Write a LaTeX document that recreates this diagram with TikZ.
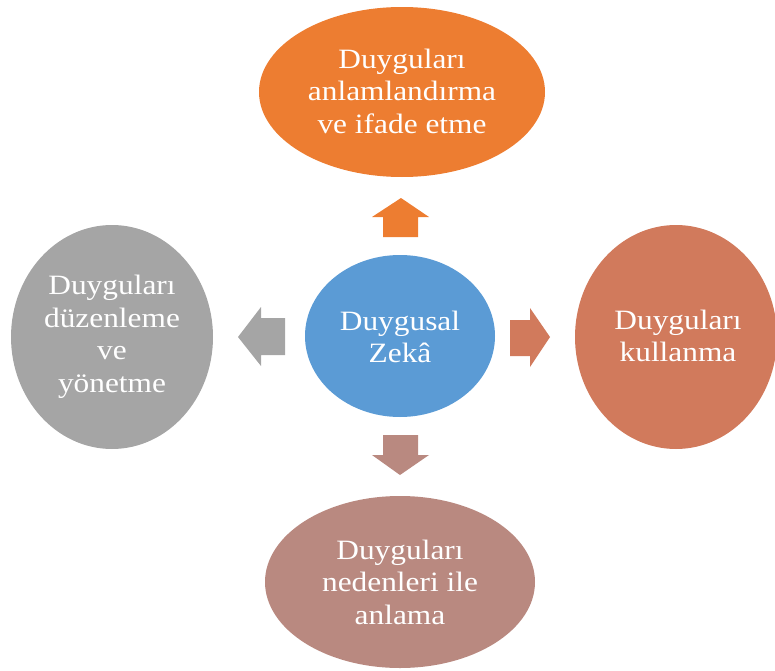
\documentclass[tikz,border=0pt]{standalone}
\usepackage{fontspec}
\setmainfont{Liberation Serif}[FakeStretch=1.12]
\usepackage{tikz}

\definecolor{zekablue}{RGB}{91,155,213}
\definecolor{anlamorange}{RGB}{237,125,49}
\definecolor{kullancoral}{RGB}{209,122,92}
\definecolor{nedenmauve}{RGB}{185,137,128}
\definecolor{duzengray}{RGB}{165,165,165}

\tikzset{
  txt/.style={text=white, align=center, inner sep=0.75pt,
    font=\fontsize{21}{24.4}\selectfont},
}

\begin{document}
\begin{tikzpicture}[x=0.75pt,y=0.75pt,yscale=-1,xscale=1]
\useasboundingbox (0,0) rectangle (775,671);

%Shape: Ellipse [top]
\fill [anlamorange] (402,92) ellipse [x radius=143, y radius=85];
%Shape: Ellipse [right]
\fill [kullancoral] (676,337) ellipse [x radius=101, y radius=112];
%Shape: Ellipse [bottom]
\fill [nedenmauve] (400,582) ellipse [x radius=135, y radius=86];
%Shape: Ellipse [left]
\fill [duzengray] (112,337) ellipse [x radius=101, y radius=112];
%Shape: Ellipse [center]
\fill [zekablue] (400,336) ellipse [x radius=95, y radius=81];

%Shape: Up Arrow
\fill [anlamorange] (383,237) -- (383,217) -- (372,217) -- (401,198) -- (429,217) -- (418,217) -- (418,237) -- cycle ;
%Shape: Right Arrow
\fill [kullancoral] (510,320) -- (530,320) -- (530,308) -- (550,337) -- (530,367) -- (530,356) -- (510,356) -- cycle ;
%Shape: Down Arrow
\fill [nedenmauve] (383,435) -- (418,435) -- (418,455) -- (429,455) -- (400,475) -- (372,455) -- (383,455) -- cycle ;
%Shape: Left Arrow
\fill [duzengray] (285,318) -- (261,318) -- (261,307) -- (238,337) -- (261,366) -- (261,355) -- (285,355) -- cycle ;

% Text Node
\node [txt] (zeka) at (400,337) {Duygusal\\Zekâ};
% Text Node
\node [txt] (anlam) at (402,91) {Duyguları\\anlamlandırma\\ve ifade etme};
% Text Node
\node [txt] (kullan) at (678,336) {Duyguları\\kullanma};
% Text Node
\node [txt] (neden) at (400,582) {Duyguları\\nedenleri ile\\anlama};
% Text Node
\node [txt] (duzen) at (112,337) {Duyguları\\düzenleme\\ve\\yönetme};

\end{tikzpicture}
\end{document}
